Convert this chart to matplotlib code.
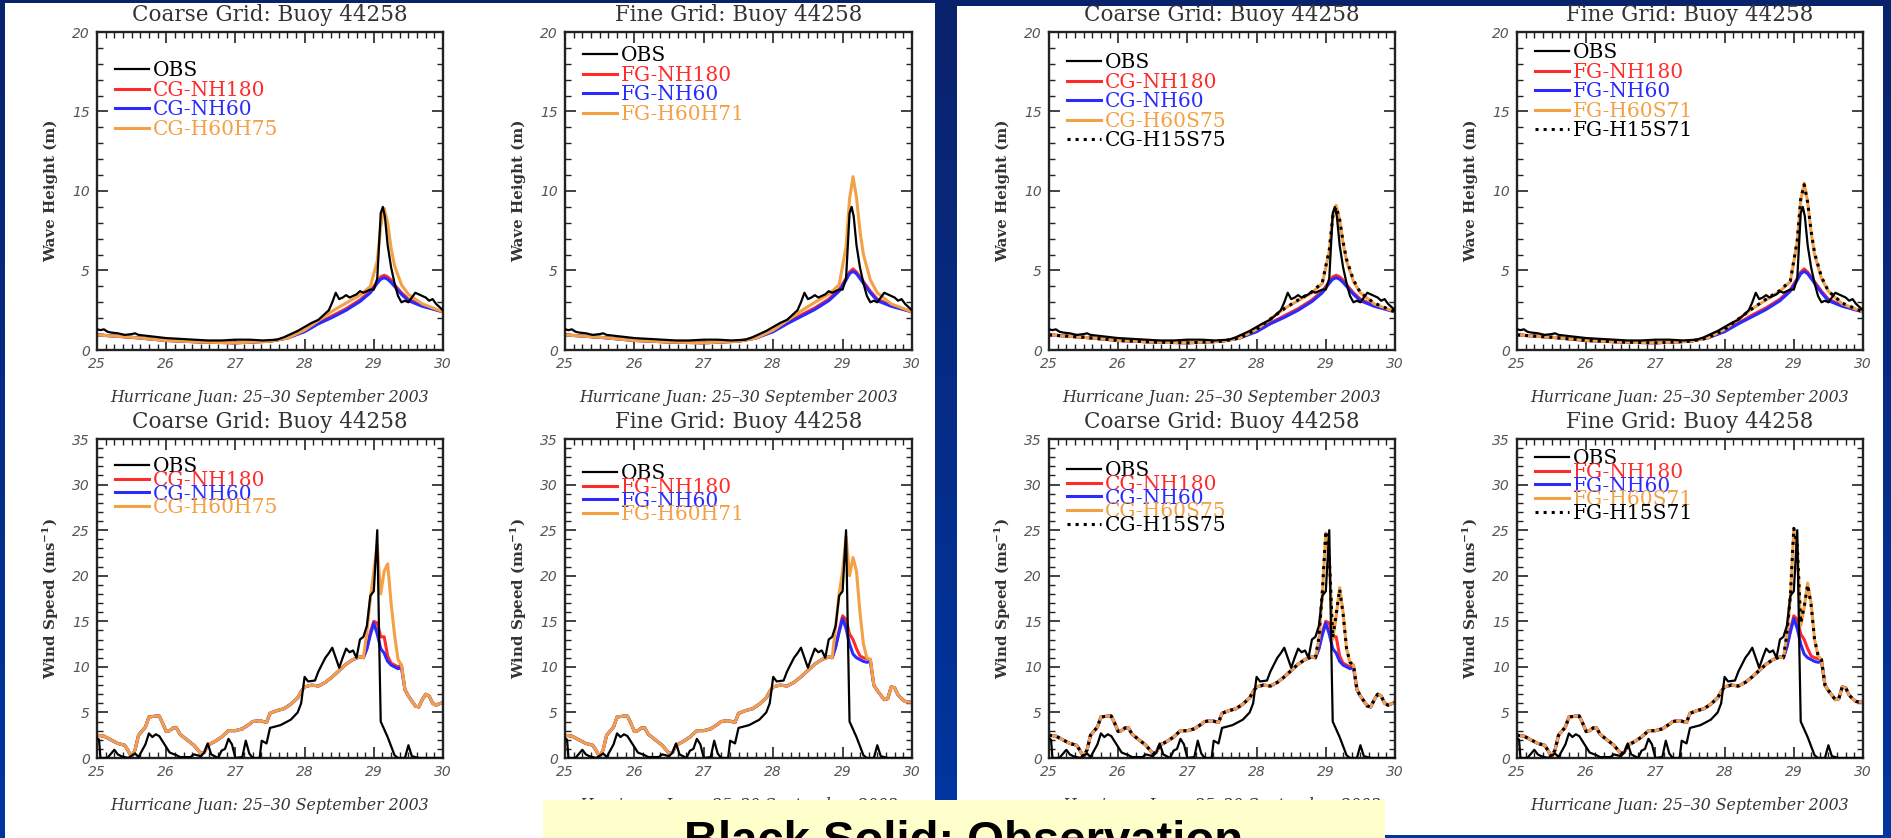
import numpy as np
import matplotlib
matplotlib.use("Agg")
import matplotlib.pyplot as plt
from matplotlib.patches import Rectangle
from matplotlib.ticker import MultipleLocator
from matplotlib.colors import LinearSegmentedColormap

plt.rcParams['mathtext.default'] = 'regular'
plt.rcParams['font.family'] = 'DejaVu Serif'

# ---------------- data ----------------
# observed wave height at buoy 44258
t_obs_wave = [25.0, 25.05, 25.1, 25.15, 25.2, 25.3, 25.4, 25.5, 25.55, 25.6, 25.7, 25.8,
              26.0, 26.2, 26.4, 26.6, 26.8, 27.0, 27.2, 27.4, 27.6, 27.7, 27.8, 27.9,
              28.0, 28.1, 28.2, 28.3, 28.35, 28.4, 28.45, 28.5, 28.55, 28.6, 28.65, 28.7,
              28.75, 28.8, 28.85, 28.9, 28.95, 29.0, 29.05, 29.1, 29.13, 29.16, 29.2, 29.25,
              29.3, 29.35, 29.4, 29.45, 29.5, 29.55, 29.6, 29.65, 29.7, 29.75, 29.8, 29.85,
              29.9, 29.95, 30.0]
obs_wave = [1.3, 1.25, 1.3, 1.15, 1.1, 1.05, 0.95, 1.0, 1.05, 0.95, 0.9, 0.85,
            0.75, 0.7, 0.65, 0.6, 0.6, 0.65, 0.65, 0.6, 0.65, 0.8, 1.0, 1.2,
            1.45, 1.7, 1.9, 2.3, 2.5, 3.0, 3.6, 3.2, 3.3, 3.45, 3.3, 3.4,
            3.5, 3.7, 3.6, 3.7, 3.8, 3.8, 4.5, 8.6, 9.0, 8.4, 6.6, 5.2,
            4.2, 3.4, 3.0, 3.1, 3.0, 3.3, 3.6, 3.5, 3.4, 3.3, 3.1, 3.2,
            2.9, 2.7, 2.5]

# observed wind speed
t_obs_wind = [25.0, 25.03, 25.05, 25.15, 25.25, 25.3, 25.35, 25.45, 25.55, 25.6, 25.7, 25.75,
              25.8, 25.85, 25.9, 26.0, 26.05, 26.15, 26.2, 26.35, 26.4, 26.5, 26.55, 26.6,
              26.65, 26.75, 26.8, 26.85, 26.9, 26.95, 27.0, 27.1, 27.15, 27.2, 27.25, 27.35,
              27.38, 27.45, 27.5, 27.6, 27.65, 27.7, 27.8, 27.9, 27.95, 28.0, 28.05, 28.15,
              28.2, 28.3, 28.35, 28.4, 28.45, 28.5, 28.55, 28.6, 28.65, 28.7, 28.75, 28.8,
              28.85, 28.9, 28.95, 29.0, 29.05, 29.08, 29.1, 29.2, 29.3, 29.35, 29.45, 29.5,
              29.55, 29.65, 30.0]
obs_wind = [2.2, 2.0, 0.0, 0.0, 0.9, 0.4, 0.2, 0.0, 0.5, 0.1, 1.5, 2.7,
            2.3, 2.6, 2.4, 1.2, 0.6, 0.3, 0.1, 0.1, 0.4, 0.2, 0.6, 1.6,
            0.4, 0.0, 0.8, 1.0, 2.1, 1.5, 0.0, 0.1, 1.9, 0.5, 0.0, 0.0,
            1.9, 1.6, 3.3, 3.5, 3.6, 3.8, 4.2, 5.0, 6.0, 8.9, 8.4, 8.5,
            9.5, 11.0, 11.5, 12.1, 11.0, 9.9, 11.0, 12.0, 11.6, 11.8, 11.0, 13.0,
            13.3, 14.5, 17.8, 18.3, 25.0, 12.0, 4.0, 2.3, 0.3, 0.0, 0.0, 1.4,
            0.2, 0.0, 0.0]

# modelled wave height: quiet period shared by all runs, then storm period per run
t_wave_early = [25.0, 25.5, 26.0, 26.5, 27.0, 27.5, 27.75]
wave_early = [0.95, 0.8, 0.6, 0.5, 0.45, 0.55, 0.75]
t_wave_storm = [28.0, 28.2, 28.4, 28.6, 28.8, 28.95, 29.05, 29.1, 29.15, 29.2, 29.25, 29.3,
                29.4, 29.5, 29.7, 30.0]
cg_nh180_wave = [1.2, 1.7, 2.15, 2.6, 3.15, 3.7, 4.3, 4.6, 4.7, 4.6, 4.4, 4.1, 3.6, 3.2, 2.8, 2.4]
cg_nh60_wave = [1.15, 1.65, 2.05, 2.5, 3.05, 3.6, 4.2, 4.45, 4.55, 4.45, 4.25, 4.0, 3.5, 3.1, 2.75, 2.4]
cg_h60h75_wave = [1.25, 1.85, 2.45, 2.95, 3.45, 4.0, 5.6, 7.8, 8.9, 8.0, 6.4, 5.3, 4.1, 3.5, 2.9, 2.4]
cg_h60s75_wave = [1.3, 1.95, 2.6, 3.1, 3.6, 4.2, 6.2, 8.3, 9.1, 8.2, 6.7, 5.6, 4.3, 3.6, 2.9, 2.4]
cg_h15s75_wave = [1.3, 1.95, 2.6, 3.15, 3.65, 4.25, 6.3, 8.4, 9.0, 8.2, 6.8, 5.7, 4.4, 3.6, 2.95, 2.4]
fg_nh180_wave = [1.2, 1.7, 2.2, 2.65, 3.2, 3.8, 4.5, 4.9, 5.1, 4.9, 4.6, 4.3, 3.7, 3.2, 2.8, 2.4]
fg_nh60_wave = [1.15, 1.65, 2.1, 2.55, 3.1, 3.7, 4.4, 4.8, 4.95, 4.8, 4.5, 4.2, 3.6, 3.1, 2.75, 2.4]
fg_h60h71_wave = [1.25, 1.85, 2.45, 3.0, 3.5, 4.1, 6.5, 9.5, 10.9, 9.6, 7.5, 6.0, 4.4, 3.6, 2.9, 2.4]
fg_h60s71_wave = [1.3, 1.95, 2.6, 3.15, 3.7, 4.3, 6.8, 9.4, 10.5, 9.3, 7.4, 6.0, 4.5, 3.7, 2.9, 2.4]
fg_h15s71_wave = [1.3, 1.95, 2.6, 3.2, 3.75, 4.35, 6.9, 9.5, 10.4, 9.3, 7.5, 6.1, 4.6, 3.7, 2.95, 2.4]

# modelled wind speed: forcing shared before the storm, storm per run, tail per grid
t_wind_early = [25.0, 25.1, 25.2, 25.3, 25.4, 25.45, 25.5, 25.55, 25.6, 25.7,
                25.75, 25.85, 25.9, 25.95, 26.0, 26.05, 26.1, 26.15, 26.2, 26.3,
                26.4, 26.5, 26.55, 26.6, 26.7, 26.8, 26.9, 27.0, 27.1, 27.2,
                27.25, 27.35, 27.45, 27.5, 27.6, 27.7, 27.8, 27.9, 27.95, 28.0,
                28.1, 28.2, 28.3, 28.4, 28.5, 28.6, 28.7, 28.8, 28.85]
wind_early = [2.5, 2.4, 2.0, 1.6, 1.4, 0.8, 0.1, 0.9, 2.5, 3.4,
              4.5, 4.6, 4.6, 3.8, 2.9, 3.0, 3.3, 3.3, 2.6, 2.0,
              1.4, 0.5, 0.6, 1.4, 1.8, 2.3, 3.0, 3.0, 3.2, 3.7,
              4.0, 4.1, 3.9, 4.9, 5.2, 5.4, 5.9, 6.6, 7.3, 7.8,
              8.0, 7.9, 8.3, 8.9, 9.6, 10.3, 10.8, 11.1, 11.0]
t_wind_storm = [28.9, 28.95, 29.0, 29.05, 29.1, 29.15, 29.2, 29.25, 29.3, 29.35, 29.4]
cg_nh180_wind = [12.0, 13.8, 15.0, 14.8, 13.3, 13.3, 11.2, 10.4, 10.2, 10.0, 10.2]
cg_nh60_wind = [12.0, 13.5, 14.8, 13.6, 12.0, 11.5, 10.6, 10.2, 10.0, 9.8, 9.9]
cg_h60h75_wind = [13.8, 17.5, 20.5, 23.3, 18.0, 20.5, 21.3, 17.0, 13.5, 10.8, 10.2]
cg_h60s75_wind = [13.0, 18.0, 24.7, 22.0, 13.0, 15.5, 18.7, 16.0, 12.0, 10.4, 10.2]
cg_h15s75_wind = [13.2, 18.3, 24.9, 22.3, 13.2, 15.8, 18.5, 15.8, 12.0, 10.5, 10.2]
fg_nh180_wind = [12.2, 14.0, 15.6, 15.2, 13.6, 13.0, 12.0, 11.2, 11.0, 10.9, 10.8]
fg_nh60_wind = [12.2, 13.8, 15.3, 14.2, 12.5, 11.4, 11.0, 10.8, 10.6, 10.5, 10.6]
fg_h60h71_wind = [14.5, 18.0, 20.5, 24.3, 20.0, 22.0, 20.5, 16.0, 12.5, 11.0, 10.8]
fg_h60s71_wind = [13.5, 17.5, 25.0, 23.0, 14.5, 16.5, 19.2, 17.0, 13.0, 11.2, 10.8]
fg_h15s71_wind = [13.6, 17.8, 25.2, 23.3, 14.8, 16.6, 19.0, 16.8, 13.0, 11.3, 10.8]
t_wind_tail = [29.45, 29.5, 29.6, 29.65, 29.7, 29.75, 29.8, 29.85, 29.9, 30.0]
cg_wind_tail = [7.5, 6.8, 5.7, 5.6, 6.4, 7.0, 6.8, 6.0, 5.8, 6.1]
fg_wind_tail = [8.0, 7.4, 6.4, 6.5, 7.8, 7.7, 6.9, 6.5, 6.2, 6.1]

# ---------------- assemble series ----------------
t_wave = np.concatenate([t_wave_early, t_wave_storm])
t_wind = np.concatenate([t_wind_early, t_wind_storm, t_wind_tail])


def wave(storm):
    return np.concatenate([wave_early, storm])


def wind(storm, tail):
    return np.concatenate([wind_early, storm, tail])


RED, BLUE, ORANGE = '#ff2a2a', '#2b2bff', '#f4a045'

W, H = 1891, 838
fig = plt.figure(figsize=(W / 100, H / 100), dpi=100)


def rect(x0, y0, x1, y1):
    return [x0 / W, 1 - y1 / H, (x1 - x0) / W, (y1 - y0) / H]


# background
bg = fig.add_axes([0, 0, 1, 1], zorder=-3)
bg.imshow(np.linspace(0, 1, 256).reshape(-1, 1), aspect='auto', extent=[0, 1, 0, 1],
          cmap=LinearSegmentedColormap.from_list('bg', ['#0a226c', '#0036a2']))
bg.axis('off')
for x0, y0, x1, y1 in [(5, 3, 935, 838), (957, 6, 1883, 835)]:
    fig.add_artist(Rectangle((x0 / W, 1 - y1 / H), (x1 - x0) / W, (y1 - y0) / H,
                             transform=fig.transFigure, facecolor='white',
                             edgecolor='none', zorder=-2))

cols = [(97, 443), (565, 912), (1049, 1395), (1517, 1863)]
rows = [(32, 350), (439, 758)]

# (grid name, column, runs for waves, runs for wind, legend offset top row, bottom row)
panels = [
    ('Coarse', 0,
     [('CG-NH180', cg_nh180_wave, RED, '-'), ('CG-NH60', cg_nh60_wave, BLUE, '-'),
      ('CG-H60H75', cg_h60h75_wave, ORANGE, '-')],
     [('CG-NH180', cg_nh180_wind, cg_wind_tail, RED, '-'),
      ('CG-NH60', cg_nh60_wind, cg_wind_tail, BLUE, '-'),
      ('CG-H60H75', cg_h60h75_wind, cg_wind_tail, ORANGE, '-')],
     40, 29),
    ('Fine', 1,
     [('FG-NH180', fg_nh180_wave, RED, '-'), ('FG-NH60', fg_nh60_wave, BLUE, '-'),
      ('FG-H60H71', fg_h60h71_wave, ORANGE, '-')],
     [('FG-NH180', fg_nh180_wind, fg_wind_tail, RED, '-'),
      ('FG-NH60', fg_nh60_wind, fg_wind_tail, BLUE, '-'),
      ('FG-H60H71', fg_h60h71_wind, fg_wind_tail, ORANGE, '-')],
     25, 36),
    ('Coarse', 2,
     [('CG-NH180', cg_nh180_wave, RED, '-'), ('CG-NH60', cg_nh60_wave, BLUE, '-'),
      ('CG-H60S75', cg_h60s75_wave, ORANGE, '-'), ('CG-H15S75', cg_h15s75_wave, 'k', ':')],
     [('CG-NH180', cg_nh180_wind, cg_wind_tail, RED, '-'),
      ('CG-NH60', cg_nh60_wind, cg_wind_tail, BLUE, '-'),
      ('CG-H60S75', cg_h60s75_wind, cg_wind_tail, ORANGE, '-'),
      ('CG-H15S75', cg_h15s75_wind, cg_wind_tail, 'k', ':')],
     32, 33),
    ('Fine', 3,
     [('FG-NH180', fg_nh180_wave, RED, '-'), ('FG-NH60', fg_nh60_wave, BLUE, '-'),
      ('FG-H60S71', fg_h60s71_wave, ORANGE, '-'), ('FG-H15S71', fg_h15s71_wave, 'k', ':')],
     [('FG-NH180', fg_nh180_wind, fg_wind_tail, RED, '-'),
      ('FG-NH60', fg_nh60_wind, fg_wind_tail, BLUE, '-'),
      ('FG-H60S71', fg_h60s71_wind, fg_wind_tail, ORANGE, '-'),
      ('FG-H15S71', fg_h15s71_wind, fg_wind_tail, 'k', ':')],
     22, 21),
]


def style_axes(ax, aw, ah, title, ylabel, ymax, ystep, leg_top, spacing):
    ax.set_xlim(25, 30)
    ax.set_ylim(0, ymax)
    ax.set_xticks(range(25, 31), [str(d) for d in range(25, 31)],
                  fontstyle='italic', family='DejaVu Sans')
    yt = list(range(0, ymax + 1, ystep))
    ax.set_yticks(yt, [str(v) for v in yt], fontstyle='italic', family='DejaVu Sans')
    ax.xaxis.set_minor_locator(MultipleLocator(1 / 8))
    ax.yaxis.set_minor_locator(MultipleLocator(1))
    ax.tick_params(which='both', direction='in', top=True, right=True,
                   labelsize=10, labelcolor='#555', color='#222', pad=5)
    ax.tick_params(which='major', length=8, width=1.2)
    ax.tick_params(which='minor', length=4, width=1.0)
    for s in ax.spines.values():
        s.set_linewidth(1.7)
        s.set_color('#222')
    ax.text(0.5, 1 + 17 / ah, title, transform=ax.transAxes, ha='center', va='center',
            fontsize=15.5, color='#333')
    ax.text(0.5, -47 / ah, 'Hurricane Juan: 25\u201330 September 2003', transform=ax.transAxes,
            ha='center', va='center', fontsize=11.3, style='italic', color='#333')
    ax.text(-46 / aw, 0.5, ylabel, transform=ax.transAxes, rotation=90, ha='center',
            va='center', fontsize=10.8, fontweight='bold', color='#333')
    ax.legend(loc='upper left', bbox_to_anchor=(18 / aw, 1 - (leg_top - 11) / ah),
              borderaxespad=0, borderpad=0, frameon=False, handlelength=1.7,
              handletextpad=0.2, labelspacing=spacing, labelcolor='linecolor',
              prop={'family': 'DejaVu Serif', 'size': 14.5})


for grid, ci, wave_runs, wind_runs, leg_wave, leg_wind in panels:
    x0, x1 = cols[ci]
    title = '%s Grid: Buoy 44258' % grid

    # wave height
    y0, y1 = rows[0]
    ax = fig.add_axes(rect(x0, y0, x1, y1))
    ax.plot(t_obs_wave, obs_wave, color='k', lw=1.6, label='OBS', zorder=3)
    for k, (lab, vals, c, ls) in enumerate(wave_runs):
        ax.plot(t_wave, wave(vals), color=c, ls=ls, lw=2.2, label=lab, zorder=2 + 0.1 * k)
    style_axes(ax, x1 - x0, y1 - y0, title, 'Wave Height (m)', 20, 5, leg_wave, 0.03)

    # wind speed
    y0, y1 = rows[1]
    ax = fig.add_axes(rect(x0, y0, x1, y1))
    ax.plot(t_obs_wind, obs_wind, color='k', lw=1.6, label='OBS', zorder=3)
    for k, (lab, vals, tail, c, ls) in enumerate(wind_runs):
        ax.plot(t_wind, wind(vals, tail), color=c, ls=ls, lw=2.2, label=lab, zorder=2 + 0.1 * k)
    style_axes(ax, x1 - x0, y1 - y0, title, 'Wind Speed (ms$^{-1}$)', 35, 5, leg_wind, -0.26)

# caption box at the bottom
fig.add_artist(Rectangle((543 / W, 0), (1385 - 543) / W, (H - 800) / H,
                         transform=fig.transFigure, facecolor='#ffffcc',
                         edgecolor='none', zorder=5))
fig.text(964 / W, 1 - 854 / H, 'Black Solid: Observation', ha='center', va='baseline',
         fontsize=34, fontweight='bold', family='Liberation Sans', zorder=6)

fig.savefig('out.png', dpi=100)
